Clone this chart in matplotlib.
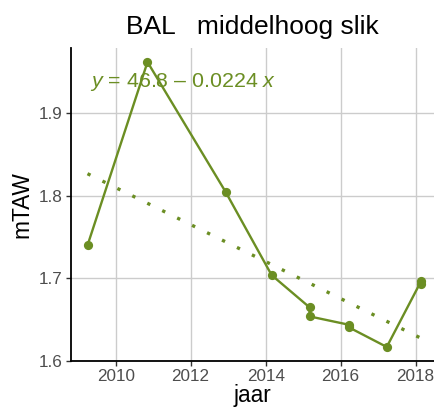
import matplotlib
matplotlib.use("Agg")
import matplotlib.pyplot as plt
import numpy as np

plt.rcParams['font.family'] = ['Liberation Sans', 'DejaVu Sans']
plt.rcParams['mathtext.fontset'] = 'custom'
plt.rcParams['mathtext.rm'] = 'Liberation Sans'
plt.rcParams['mathtext.it'] = 'Liberation Sans:italic'

# Measured elevations (mTAW) per survey date
jaar = [2009.25, 2010.85, 2012.93, 2014.16, 2015.17, 2015.17,
        2016.21, 2016.21, 2017.23, 2018.15, 2018.15]
mTAW = [1.740, 1.962, 1.805, 1.704, 1.665, 1.654,
        1.644, 1.641, 1.617, 1.697, 1.693]

# Linear trend coefficients
fit_intercept = 46.834
fit_slope = -0.0224

x_ticks = [2010, 2012, 2014, 2016, 2018]
y_ticks = [1.6, 1.7, 1.8, 1.9]

title = "BAL   middelhoog slik"
green = "#6B8E23"

fig = plt.figure(figsize=(4.34, 4.17), dpi=100)
ax = fig.add_axes([71 / 434, 56 / 417, 1 - 71 / 434, 313 / 417])

# trend line over the data range
xs = np.array([min(jaar), max(jaar)])
ax.plot(xs, fit_intercept + fit_slope * xs, color=green, lw=2.4,
        dashes=(1, 4), dash_capstyle='butt', zorder=2)

ax.plot(jaar, mTAW, color=green, lw=1.7, zorder=3)
ax.scatter(jaar, mTAW, s=44, color=green, zorder=4, linewidths=0)

ax.set_xlim(2008.81, 2018.49)
ax.set_ylim(1.6, 1.979)
ax.set_xticks(x_ticks)
ax.set_yticks(y_ticks)
ax.set_yticklabels([f"{v:.1f}" for v in y_ticks])

ax.grid(True, color="#cccccc", lw=1.0)
ax.set_axisbelow(True)
for s in ("top", "right"):
    ax.spines[s].set_visible(False)
for s in ("left", "bottom"):
    ax.spines[s].set_color("black")
    ax.spines[s].set_linewidth(1.3)

ax.tick_params(axis='both', colors="#333333", labelcolor="#4D4D4D",
               labelsize=12.3, length=3.5, width=1.0, pad=2.5)

ax.set_xlabel("jaar", fontsize=16.4, color="black", labelpad=0)
ax.set_ylabel("mTAW", fontsize=16.4, color="black", labelpad=3.5)
ax.set_title(title, fontsize=19, color="black", pad=10)

sign = "–" if fit_slope < 0 else "+"
eq = rf"$\mathit{{y}}$ = {fit_intercept:.1f} {sign} {abs(fit_slope):.4f} $\mathit{{x}}$"
ax.text(0.052, 0.89, eq, transform=ax.transAxes, color=green,
        fontsize=15.4, ha='left', va='center', zorder=5)

fig.savefig("out.png", dpi=100)
